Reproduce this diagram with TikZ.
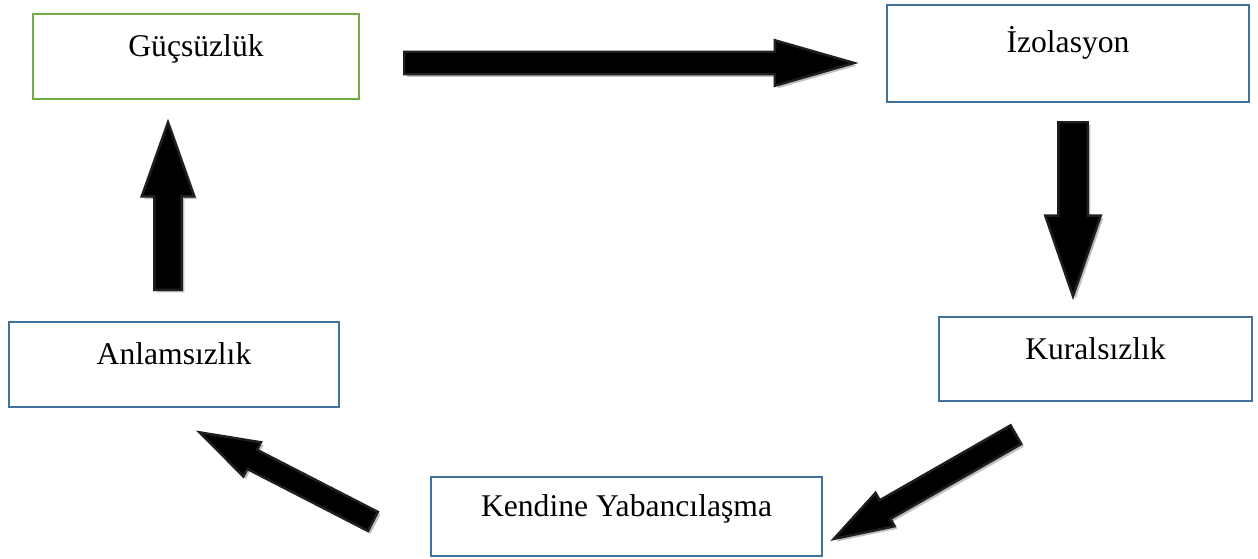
\documentclass[tikz,border=0pt]{standalone}
\usepackage{fontspec}
\setmainfont{Liberation Serif}
\usetikzlibrary{shapes.arrows, shadows}
\definecolor{BoxBlue}{RGB}{65,113,156}
\definecolor{BoxGreen}{RGB}{112,173,71}

\begin{document}
\begin{tikzpicture}[x=0.02cm, y=-0.02cm,
    font=\fontsize{18}{22}\selectfont,
    box/.style={draw=BoxBlue, line width=1.1pt, fill=white, align=center,
        text height=0.75em, text depth=0.75em},
    blockarrow/.style={single arrow, anchor=tail, fill=black, draw=black!88, line width=1.4pt,
        single arrow head indent=0pt,
        drop shadow={shadow xshift=1.5pt, shadow yshift=-1.5pt, fill=black!25, opacity=1}}]

\useasboundingbox (0,0) rectangle (1258,558);

\node[box, draw=BoxGreen, minimum width=6.52cm, minimum height=1.70cm] (guc) at (196,56.5) {Güçsüzlük};
\node[box, minimum width=7.24cm, minimum height=1.94cm, text depth=0.9em] (izo) at (1068,53.5) {İzolasyon};
\node[box, minimum width=6.26cm, minimum height=1.68cm] (kural) at (1095.5,359) {Kuralsızlık};
\node[box, minimum width=7.82cm, minimum height=1.58cm] (kendi) at (626.5,516.5) {Kendine Yabancılaşma};
\node[box, minimum width=6.60cm, minimum height=1.70cm] (anlam) at (174,364.5) {Anlamsızlık};

% block arrows of the cycle, placed by their tails
\node[blockarrow, minimum height=9.0cm, inner sep=0.2cm, single arrow head extend=0.23cm,
      single arrow tip angle=32] (a1) at (403,63) {};
\node[blockarrow, minimum height=3.48cm, inner sep=0.27cm, single arrow head extend=0.26cm,
      single arrow tip angle=38, rotate=-90] (a2) at (1073,121) {};
\node[blockarrow, minimum height=4.2cm, inner sep=0.19cm, single arrow head extend=0.17cm,
      single arrow tip angle=36, rotate=209.8] (a3) at (1017,434) {};
\node[blockarrow, minimum height=3.9cm, inner sep=0.19cm, single arrow head extend=0.17cm,
      single arrow tip angle=36, rotate=152.8] (a4) at (374,522) {};
\node[blockarrow, minimum height=3.35cm, inner sep=0.25cm, single arrow head extend=0.25cm,
      single arrow tip angle=39, rotate=90] (a5) at (168,291) {};

\end{tikzpicture}
\end{document}
